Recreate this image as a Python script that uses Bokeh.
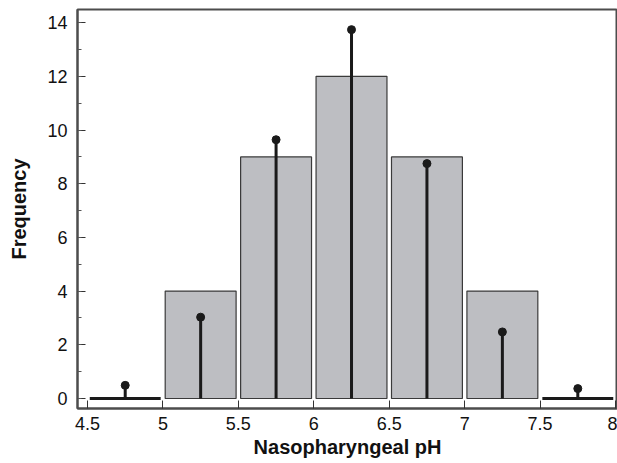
from bokeh.plotting import figure
from bokeh.models import Range1d, FixedTicker, SingleIntervalTicker, ColumnDataSource
from bokeh.embed import file_html
from bokeh.resources import INLINE

# Data
bin_centers = [4.75, 5.25, 5.75, 6.25, 6.75, 7.25, 7.75]
counts = [0, 4, 9, 12, 9, 4, 0]
expected = [0.49, 3.03, 9.64, 13.74, 8.75, 2.48, 0.37]
x_ticks = [4.5, 5, 5.5, 6, 6.5, 7, 7.5, 8]
x_tick_labels = ["4.5", "5", "5.5", "6", "6.5", "7", "7.5", "8"]

FONT = "Liberation Sans"
AXC = "#4d4d4d"

p = figure(width=617, height=463, output_backend="svg", toolbar_location=None,
           x_range=Range1d(4.4337, 8.0131), y_range=Range1d(-0.372, 14.49),
           min_border_left=77, min_border_right=0, min_border_top=9, min_border_bottom=55)
p.grid.visible = False
p.outline_line_color = AXC
p.outline_line_width = 2
p.background_fill_color = "white"

bw = 0.47
nz = ColumnDataSource(dict(x=[c for c, n in zip(bin_centers, counts) if n > 0],
                           top=[n for n in counts if n > 0]))
z = ColumnDataSource(dict(x0=[c - bw / 2 for c, n in zip(bin_centers, counts) if n == 0],
                          x1=[c + bw / 2 for c, n in zip(bin_centers, counts) if n == 0],
                          y=[n for n in counts if n == 0]))
p.vbar(x="x", top="top", bottom=0, width=bw, source=nz,
       fill_color="#bdbec2", line_color="#3a3a3a", line_width=1.2)
p.segment(x0="x0", y0="y", x1="x1", y1="y", source=z, line_color="#1a1a1a", line_width=3)

e = ColumnDataSource(dict(x=bin_centers, y=expected, y0=[0] * len(expected)))
p.segment(x0="x", y0="y0", x1="x", y1="y", source=e, line_color="#1a1a1a", line_width=3)
p.scatter(x="x", y="y", source=e, size=8, fill_color="#1a1a1a", line_color="#1a1a1a")

p.xaxis.ticker = FixedTicker(ticks=x_ticks)
p.xaxis.major_label_overrides = {t: l for t, l in zip(x_ticks, x_tick_labels)}
p.yaxis.ticker = SingleIntervalTicker(interval=2, num_minor_ticks=2)

for ax in (p.xaxis[0], p.yaxis[0]):
    ax.axis_line_color = AXC
    ax.axis_line_width = 2
    ax.major_tick_line_color = "#333333"
    ax.minor_tick_line_color = "#555555"
    ax.major_tick_in = 8
    ax.major_tick_out = 0
    ax.minor_tick_in = 4
    ax.minor_tick_out = 0
    ax.major_label_text_font = FONT
    ax.major_label_text_font_size = "18px"
    ax.major_label_text_color = "#111111"
    ax.axis_label_text_font = FONT
    ax.axis_label_text_font_size = "20px"
    ax.axis_label_text_font_style = "bold"
    ax.axis_label_text_color = "#111111"
p.xaxis.minor_tick_line_color = None
p.xaxis.major_label_standoff = 8
p.yaxis.major_label_standoff = 10
p.xaxis.axis_label = "Nasopharyngeal pH"
p.yaxis.axis_label = "Frequency"
p.xaxis.axis_label_standoff = 3
p.yaxis.axis_label_standoff = 14

open("out.html", "w").write(file_html(p, INLINE))
